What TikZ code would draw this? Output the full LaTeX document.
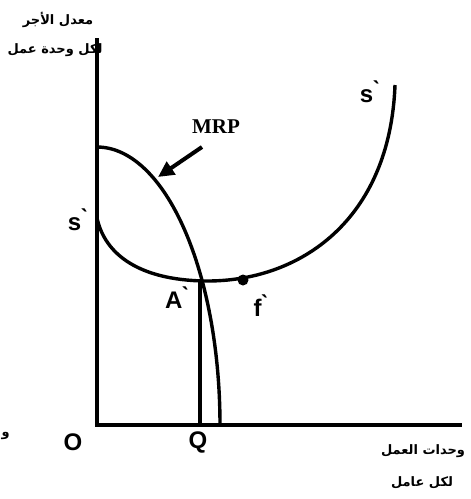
\documentclass[tikz,border=0pt]{standalone}
\usepackage{fontspec}
\setmainfont{Liberation Serif}
\newfontfamily\arabicfont[Script=Arabic]{DejaVu Sans}
\newfontfamily\labfont{Liberation Sans}
\TeXXeTstate=1
\usetikzlibrary{arrows.meta}
\begin{document}
\begin{tikzpicture}[x=1pt,y=-1pt,
  axisline/.style={line width=3.6pt},
  curve/.style={line width=3.4pt},
  lab/.style={font=\labfont\bfseries\fontsize{24}{24}\selectfont, inner sep=0pt},
  arlab/.style={font=\arabicfont\bfseries\fontsize{13}{13}\selectfont, inner sep=0pt}]
\useasboundingbox (0,0) rectangle (471,499);
% axes
\coordinate (top) at (97,38);
\coordinate (orig) at (97,425);
\coordinate (xend) at (462,425);
\draw[axisline] (top) -- (orig) -- (xend);
% MRP curve (quarter ellipse)
\draw[curve] plot[domain=90:0, samples=60] ({97+123*cos(\x)},{425-278*sin(\x)});
% s` curve
\coordinate (sstart) at (97,218);
\coordinate (smin) at (205,281);
\coordinate (send) at (395,85);
\draw[curve] (sstart) .. controls (105,255) and (140,280) .. (smin)
  .. controls (300,282) and (390,220) .. (send);
% vertical line at Q
\coordinate (A) at (200,282);
\coordinate (Qb) at (200,425);
\draw[curve] (A) -- (Qb);
% dot f
\coordinate (f) at (243,280);
\fill (f) circle (5.5);
% arrow
\coordinate (arrS) at (202,147);
\coordinate (arrE) at (158,177);
\draw[line width=4pt, -{Triangle[length=16pt,width=15pt]}] (arrS) -- (arrE);
% labels
\node[font=\bfseries\fontsize{21}{21}\selectfont, inner sep=0pt] (mrp) at (216,127) {MRP};
\node[lab] (sl) at (78,220) {s\`{}};
\node[lab] (sr) at (370,92) {s\`{}};
\node[lab] (al) at (177,298) {A\`{}};
\node[lab] (fl) at (261,306) {f\`{}};
\node[lab] (ol) at (73,442) {O};
\node[lab] (ql) at (198,442) {Q};
% Arabic labels
\node[arlab] (y1) at (58,20) {\beginR معدل الأجر\endR};
\node[arlab] (y2) at (55,50) {\beginR لكل وحدة عمل\endR};
\node[arlab] (x1) at (423,451) {\beginR وحدات العمل\endR};
\node[arlab] (x2) at (422,483) {\beginR لكل عامل\endR};
\node[arlab, anchor=east] (frag) at (10,436) {\beginR و\endR};
\end{tikzpicture}
\end{document}
